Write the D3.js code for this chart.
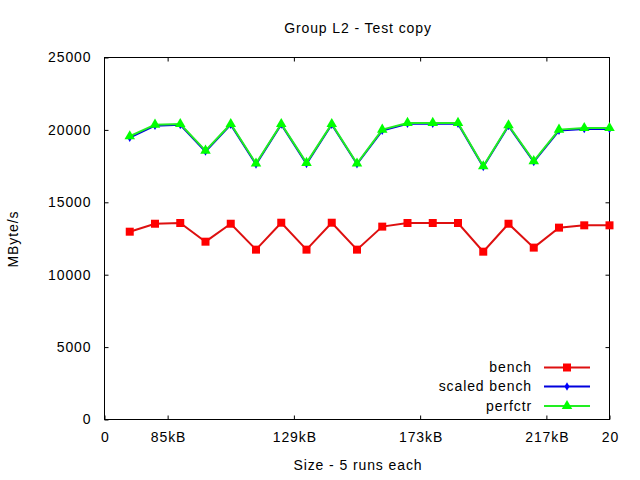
<!DOCTYPE html>
<html><head><meta charset="utf-8">
<script src="https://cdn.jsdelivr.net/npm/d3@7"></script>
<style>body{margin:0;background:#fff}svg{display:block}text{font-family:"Liberation Sans",Arial,sans-serif;fill:#000;font-size:14px;letter-spacing:0.9px}</style>
</head><body>
<script>
const xs = [1,2,3,4,5,6,7,8,9,10,11,12,13,14,15,16,17,18,19,20];
const bench = [12970,13520,13570,12280,13520,11730,13590,11730,13590,11730,13320,13570,13570,13570,11590,13520,11870,13250,13410,13410];
const scaledBench = [19460,20290,20350,18510,20360,17620,20380,17660,20370,17640,19950,20430,20430,20430,17450,20270,17790,19950,20070,20070];
const perfctr = [19560,20360,20410,18570,20410,17680,20410,17720,20410,17680,20020,20480,20480,20480,17490,20320,17840,20020,20130,20130];
const xTickVals = [0,2.5,7.5,12.5,17.5,20];
const xTickLabels = ["0","85kB","129kB","173kB","217kB","20"];
const yTickVals = [0,5000,10000,15000,20000,25000];
const seriesNames = ["bench","scaled bench","perfctr"];
const seriesColors = ["#ff0000","#0000ff","#00ff00"];
const lineColors = ["#dd1010","#0000dd","#22ee22"];

const W=640,H=480, L=104.5, R=609.5, T=57.5, B=419.5;
const svg=d3.select("body").append("svg").attr("width",W).attr("height",H);
const x=d3.scaleLinear().domain([0,20]).range([L,R]);
const y=d3.scaleLinear().domain([0,25000]).range([B,T]);

const gl=svg.append("g").attr("transform",`translate(${L},0)`).call(d3.axisLeft(y).tickValues(yTickVals).tickSize(-4).tickPadding(13).tickFormat(d3.format("d")));
const gr=svg.append("g").attr("transform",`translate(${R},0)`).call(d3.axisRight(y).tickValues(yTickVals.slice(1,-1)).tickSize(-4).tickFormat(""));
const gb=svg.append("g").attr("transform",`translate(0,${B})`).call(d3.axisBottom(x).tickValues(xTickVals).tickSize(-4).tickPadding(13).tickFormat((d,i)=>xTickLabels[i]));
const gt=svg.append("g").attr("transform",`translate(0,${T})`).call(d3.axisTop(x).tickValues(xTickVals.slice(1,-1)).tickSize(-4).tickFormat(""));
[gl,gr,gb,gt].forEach(g=>{g.select(".domain").remove();g.selectAll("line").attr("stroke","#000");g.attr("font-size",null).attr("font-family",null);});
gb.selectAll("text").attr("dx","0.45px");
svg.append("rect").attr("x",L).attr("y",T).attr("width",R-L).attr("height",B-T).attr("fill","none").attr("stroke","#000").attr("stroke-width",1);

svg.append("text").attr("x",358).attr("y",33).attr("text-anchor","middle").text("Group L2 - Test copy");
svg.append("text").attr("x",358).attr("y",470).attr("text-anchor","middle").text("Size - 5 runs each");
svg.append("text").attr("transform","translate(18,239) rotate(-90)").attr("text-anchor","middle").text("MByte/s");

const data=[bench,scaledBench,perfctr];
const line=d3.line().x((d,i)=>x(xs[i])).y(d=>y(d));
const sq=d3.symbol().type(d3.symbolSquare).size(64);
const dm=d3.symbol().type(d3.symbolDiamond).size(22);
const tr=d3.symbol().type(d3.symbolTriangle).size(48);
const syms=[sq,dm,tr];

data.forEach((vals,k)=>{
  const g=svg.append("g");
  g.append("path").datum(vals).attr("d",line).attr("fill","none").attr("stroke",lineColors[k]).attr("stroke-width",2);
  g.selectAll("path.m").data(vals).enter().append("path").attr("class","m")
    .attr("d",syms[k]()).attr("transform",(d,i)=>`translate(${x(xs[i])},${y(d)})`).attr("fill",seriesColors[k]);
});

const ly=[367.5,386.5,406];
seriesNames.forEach((n,k)=>{
  svg.append("text").attr("x",532).attr("y",ly[k]).attr("dy","0.35em").attr("text-anchor","end").text(n);
  svg.append("line").attr("x1",544).attr("x2",590).attr("y1",ly[k]).attr("y2",ly[k]).attr("stroke",lineColors[k]).attr("stroke-width",2);
  svg.append("path").attr("d",syms[k]()).attr("transform",`translate(567,${ly[k]})`).attr("fill",seriesColors[k]);
});
</script>
</body></html>
